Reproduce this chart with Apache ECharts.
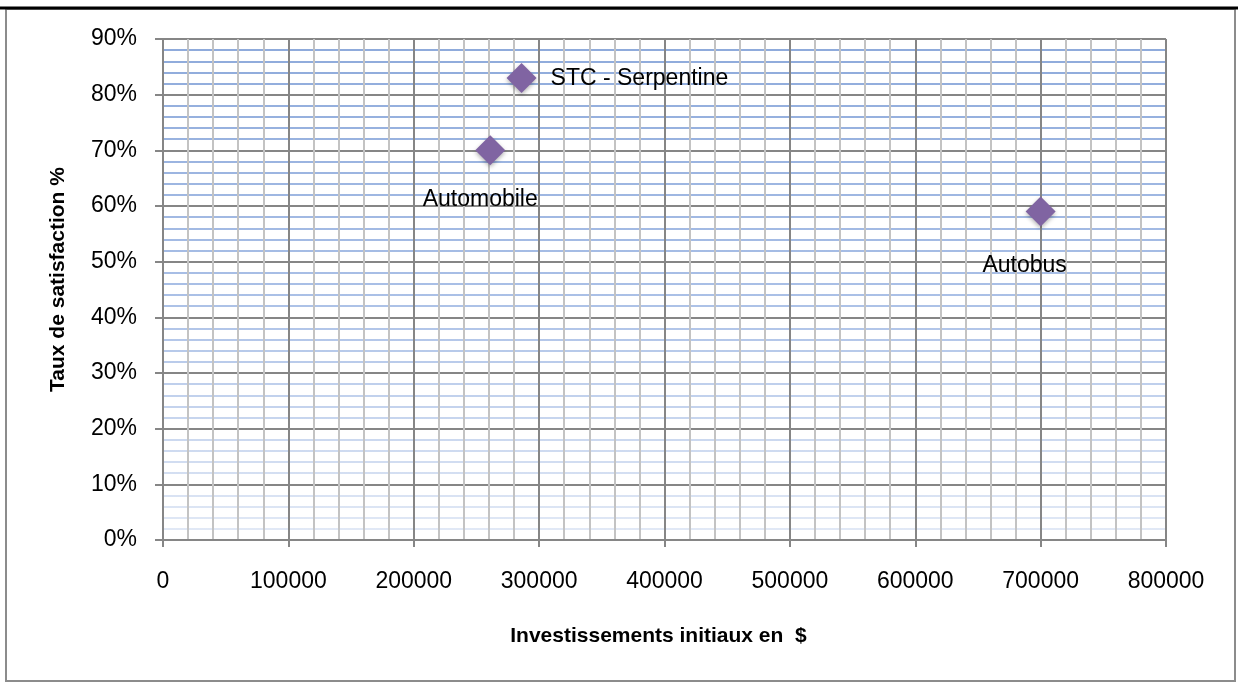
<!DOCTYPE html>
<html>
<head>
<meta charset="utf-8">
<script src="https://cdn.jsdelivr.net/npm/echarts@6/dist/echarts.min.js"></script>
<style>
  html, body { margin: 0; padding: 0; background: #fff; }
  #myChart { width: 1238px; height: 682px; }
</style>
</head>
<body>
<div id="myChart"></div>
<script>
// données
var names = ['Automobile', 'STC - Serpentine', 'Autobus'];
var invest = [261000, 286000, 700000];
var satisfaction = [70, 83, 59];

var xMin = 0, xMax = 800000, xStep = 100000;
var yMin = 0, yMax = 90, yStep = 10;

// placement des étiquettes
var labelStyle = {
  'Automobile': { position: 'inside', offset: [-10, 49] },
  'STC - Serpentine': { position: 'right', distance: 14, offset: [0, 1] },
  'Autobus': { position: 'inside', offset: [-16, 54] }
};

var gray = '#868686';
var font = 'Liberation Sans';

var myChart = echarts.init(document.getElementById('myChart'));

var option = {
  animation: false,
  backgroundColor: '#fff',
  grid: { left: 163, right: 72, top: 39, bottom: 142 },
  graphic: [
    {
      type: 'rect',
      shape: { x: 6, y: 9, width: 1229, height: 672 },
      style: { fill: 'none', stroke: '#8c8c8c', lineWidth: 2 },
      silent: true
    },
    {
      type: 'line',
      shape: { x1: 0, y1: 8, x2: 1238, y2: 8 },
      style: { stroke: '#000', lineWidth: 3 },
      silent: true
    }
  ],
  xAxis: {
    type: 'value',
    min: xMin, max: xMax, interval: xStep,
    name: 'Investissements initiaux en  $',
    nameLocation: 'middle',
    nameGap: 86,
    nameTextStyle: { fontFamily: font, fontSize: 21, fontWeight: 'bold', color: '#000', padding: [0, 12, 0, 0] },
    axisLine: { show: true, lineStyle: { color: gray, width: 2 } },
    axisTick: { show: true, length: 7, lineStyle: { color: gray, width: 2 } },
    axisLabel: { fontFamily: font, fontSize: 23, color: '#000', margin: 30, formatter: function (v) { return String(v); } },
    splitLine: { show: true, lineStyle: { color: gray, width: 2 } },
    minorTick: { show: false, splitNumber: 5 },
    minorSplitLine: { show: true, lineStyle: { color: '#c3c3c3', width: 2 } }
  },
  yAxis: {
    type: 'value',
    min: yMin, max: yMax, interval: yStep,
    name: 'Taux de satisfaction %',
    nameLocation: 'middle',
    nameGap: 94,
    nameTextStyle: { fontFamily: font, fontSize: 21, fontWeight: 'bold', color: '#000', padding: [0, 0, 0, 20] },
    axisLine: { show: true, lineStyle: { color: gray, width: 2 } },
    axisTick: { show: true, length: 8, lineStyle: { color: gray, width: 2 } },
    axisLabel: { fontFamily: font, fontSize: 23, color: '#000', margin: 26, formatter: '{value}%' },
    splitLine: { show: true, lineStyle: { color: gray, width: 2 } },
    minorTick: { show: false, splitNumber: 5 },
    minorSplitLine: {
      show: true,
      lineStyle: {
        width: 2,
        color: new echarts.graphic.LinearGradient(0, 39, 0, 540, [
          { offset: 0, color: '#8eaadb' },
          { offset: 0.5, color: '#a9bfe6' },
          { offset: 1, color: '#e3eaf6' }
        ], true)
      }
    }
  },
  series: [
    {
      type: 'scatter',
      symbol: 'diamond',
      symbolSize: [30, 30],
      itemStyle: {
        color: '#8064a2',
        opacity: 1,
        shadowBlur: 4,
        shadowOffsetY: 2,
        shadowColor: 'rgba(0,0,0,0.3)'
      },
      label: {
        show: true,
        color: '#000',
        opacity: 1,
        textBorderWidth: 0,
        textShadowBlur: 0,
        textShadowColor: 'transparent',
        fontFamily: font,
        fontSize: 23,
        formatter: function (p) { return p.name; }
      },
      data: names.map(function (n, i) {
        return {
          name: n,
          value: [invest[i], satisfaction[i]],
          label: labelStyle[n]
        };
      })
    }
  ]
};

myChart.setOption(option);
</script>
</body>
</html>
